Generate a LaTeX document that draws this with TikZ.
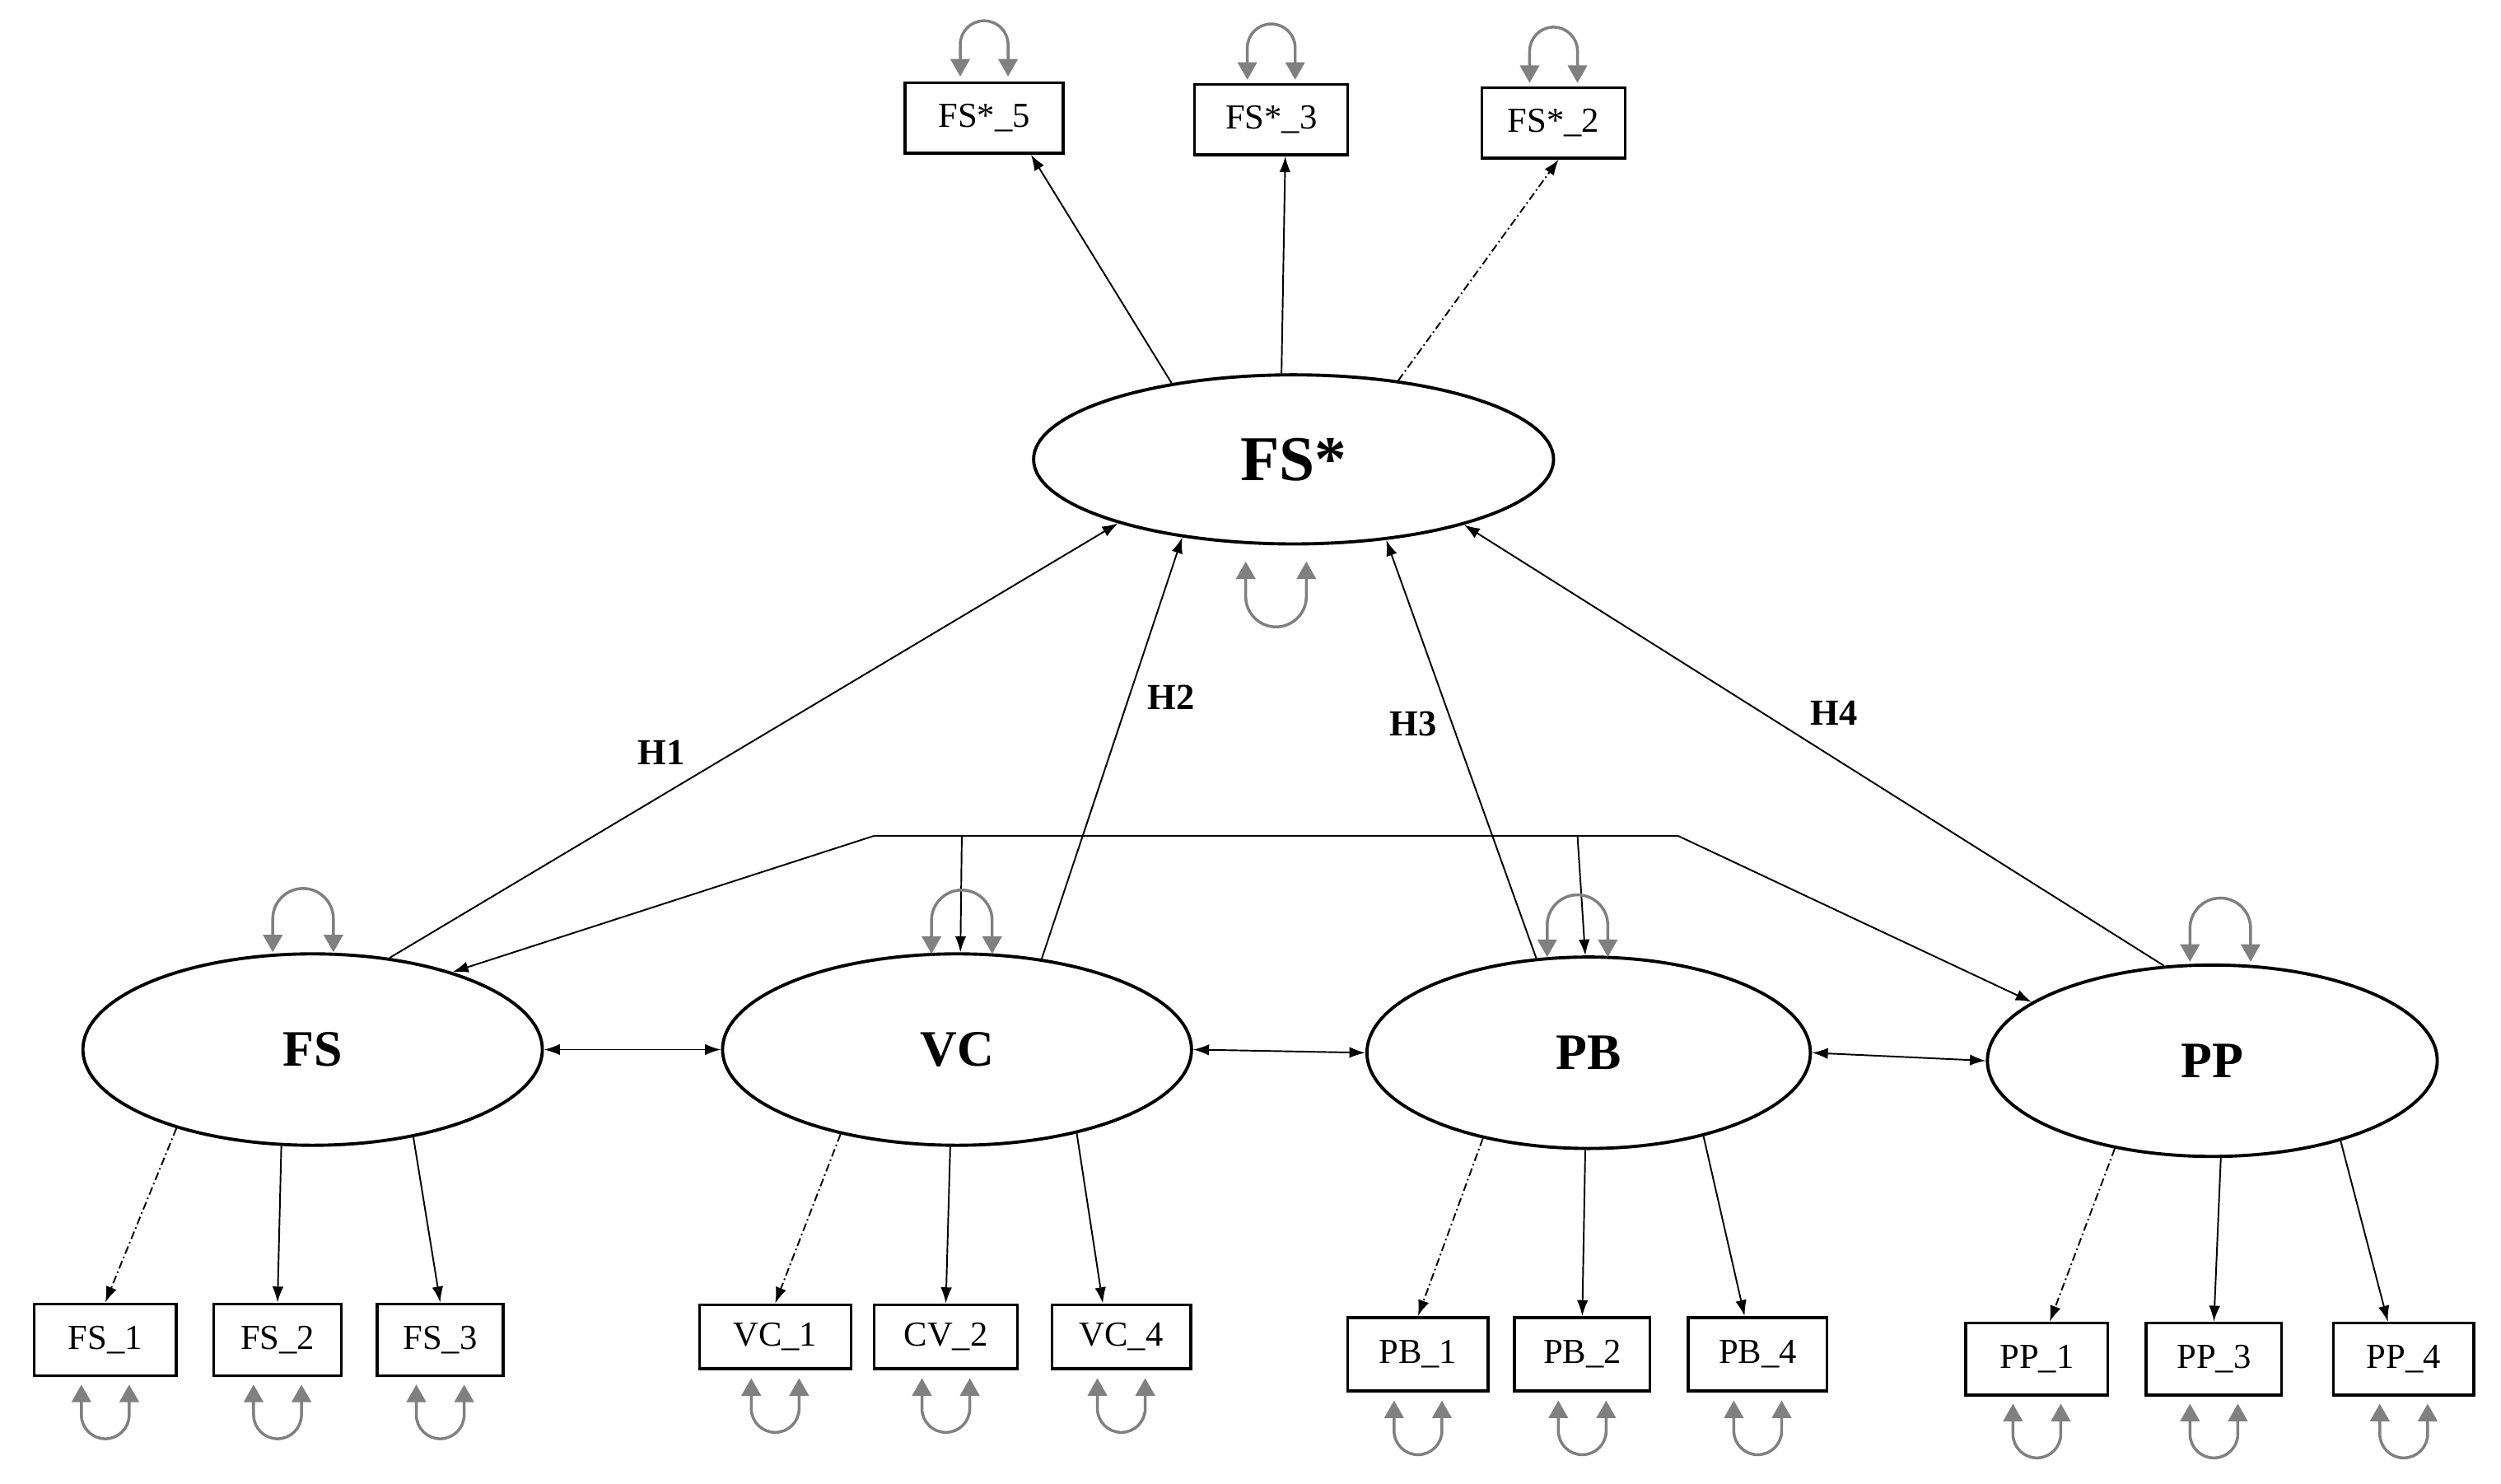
\documentclass[tikz,border=0pt]{standalone}
\usepackage{fontspec}
\setmainfont{Liberation Serif}
\usetikzlibrary{arrows.meta,shapes.geometric}
\begin{document}
\begin{tikzpicture}[x=1pt,y=-1pt,
  lat/.style={ellipse,draw,line width=2pt,inner sep=0pt,font=\bfseries\fontsize{32}{32}\selectfont},
  box/.style={rectangle,draw,line width=1.8pt,minimum height=44pt,inner sep=0pt,font=\fontsize{22}{22}\selectfont},
  con/.style={line width=1pt,-{Latex[length=10pt,width=7pt]}},
  dcon/.style={con,dash pattern=on 5pt off 2pt on 1pt off 2pt},
  bi/.style={line width=1pt,{Latex[length=10pt,width=7pt]}-{Latex[length=10pt,width=7pt]}},
  hl/.style={font=\bfseries\fontsize{23}{23}\selectfont},
  sloop/.style={draw=gray,line width=1.8pt,{Triangle[length=11pt,width=12pt]}-{Triangle[length=11pt,width=12pt]}}]
\useasboundingbox (0,0) rectangle (1568,930);
\newcommand\looptop[4]{\draw[sloop] ({#1-#3},#2) -- ({#1-#3},{#2-#4+#3}) arc[start angle=180,end angle=360,radius=#3] -- ({#1+#3},#2);}
\newcommand\loopbot[4]{\draw[sloop] ({#1-#3},#2) -- ({#1-#3},{#2+#4-#3}) arc[start angle=180,end angle=0,radius=#3] -- ({#1+#3},#2);}
% latent
\node[lat,minimum width=326pt,minimum height=106pt,font=\bfseries\fontsize{40}{40}\selectfont] (fsx) at (811,288) {FS*};
\node[lat,minimum width=288pt,minimum height=120pt] (fs) at (196,658) {FS};
\node[lat,minimum width=294pt,minimum height=120pt] (vc) at (600,658) {VC};
\node[lat,minimum width=278pt,minimum height=120pt] (pb) at (996,660) {PB};
\node[lat,minimum width=282pt,minimum height=120pt] (pp) at (1387,665) {PP};
% top boxes
\node[box,minimum width=99pt] (x5) at (617,74) {FS*\_5};
\node[box,minimum width=96pt] (x3) at (797,75) {FS*\_3};
\node[box,minimum width=90pt] (x2) at (974,77) {FS*\_2};
% bottom boxes
\node[box,minimum width=89pt,minimum height=45pt] (fs1) at (66,840) {FS\_1};
\node[box,minimum width=80pt,minimum height=45pt] (fs2) at (174,840) {FS\_2};
\node[box,minimum width=79pt,minimum height=45pt] (fs3) at (276,840) {FS\_3};
\node[box,minimum width=95pt,minimum height=40pt] (vc1) at (486,838) {VC\_1};
\node[box,minimum width=90pt,minimum height=40pt] (cv2) at (593,838) {CV\_2};
\node[box,minimum width=87pt,minimum height=40pt] (vc4) at (703,838) {VC\_4};
\node[box,minimum width=88pt,minimum height=46pt] (pb1) at (889,849) {PB\_1};
\node[box,minimum width=85pt,minimum height=46pt] (pb2) at (992,849) {PB\_2};
\node[box,minimum width=87pt,minimum height=46pt] (pb4) at (1102,849) {PB\_4};
\node[box,minimum width=89pt,minimum height=45pt] (pp1) at (1277,852) {PP\_1};
\node[box,minimum width=85pt,minimum height=45pt] (pp3) at (1388,852) {PP\_3};
\node[box,minimum width=88pt,minimum height=45pt] (pp4) at (1507,852) {PP\_4};
% loadings
\draw[con] (fsx.148.5) -- (x5.-38);
\draw[con] (fsx.98.5) -- (x3.-69);
\draw[dcon] (fsx.37.2) -- (x2.-82);
\draw[dcon] (fs.210.2) -- (fs1.north);
\draw[con] (fs.252.4) -- (fs2.north);
\draw[con] (fs.319.4) -- (fs3.north);
\draw[dcon] (vc.216.9) -- (vc1.north);
\draw[con] (vc.266.2) -- (cv2.north);
\draw[con] (vc.325.3) -- (vc4.119);
\draw[dcon] (pb.219.2) -- (pb1.north);
\draw[con] (pb.268) -- (pb2.north);
\draw[con] (pb.324.4) -- (pb4.109);
\draw[dcon] (pp.222) -- (pp1.71);
\draw[con] (pp.275.7) -- (pp3.north);
\draw[con] (pp.328.6) -- (pp4.113);
% structural
\draw[con] (fs.50) -- node[hl,pos=0.42,above left=3pt] {H1} (fsx.200.1);
\draw[con] (vc.47.2) -- node[hl,pos=0.62,right=8pt] {H2} (fsx.215.9);
\draw[con] (pb.119.5) -- node[hl,pos=0.56,left=6pt] {H3} (fsx.319);
\draw[con] (pp.117.7) -- node[hl,pos=0.52,above right=3pt] {H4} (fsx.339.8);
% covariances
\draw[bi] (fs.east) -- (vc.west);
\draw[bi] (vc.east) -- (pb.west);
\draw[bi] (pb.east) -- (pp.west);
\coordinate (bl) at (548,524);
\coordinate (br) at (1052,524);
\coordinate (ta) at (603,524);
\coordinate (tb) at (989,524);
\draw[con] (bl) -- (fs.29);
\draw[line width=1pt] (bl) -- (br);
\draw[con] (br) -- (pp.162.2);
\draw[con] (ta) -- (vc.88);
\draw[con] (tb) -- (pb.92);
% self loops
\loopbot{800}{352}{19}{41}
\looptop{190}{597}{19}{40}
\looptop{603}{598}{19}{40}
\looptop{989}{600}{19}{39}
\looptop{1392}{603}{19}{40}
\looptop{617}{48}{15}{35}
\looptop{797}{50}{15}{35}
\looptop{974}{52}{15}{35}
\foreach \x in {66,174,276}{\loopbot{\x}{868}{15}{34}}
\foreach \x in {486,593,703}{\loopbot{\x}{864}{15}{34}}
\foreach \x in {889,992,1102}{\loopbot{\x}{878}{15}{34}}
\foreach \x in {1277,1388,1507}{\loopbot{\x}{880}{15}{34}}
\end{tikzpicture}
\end{document}
